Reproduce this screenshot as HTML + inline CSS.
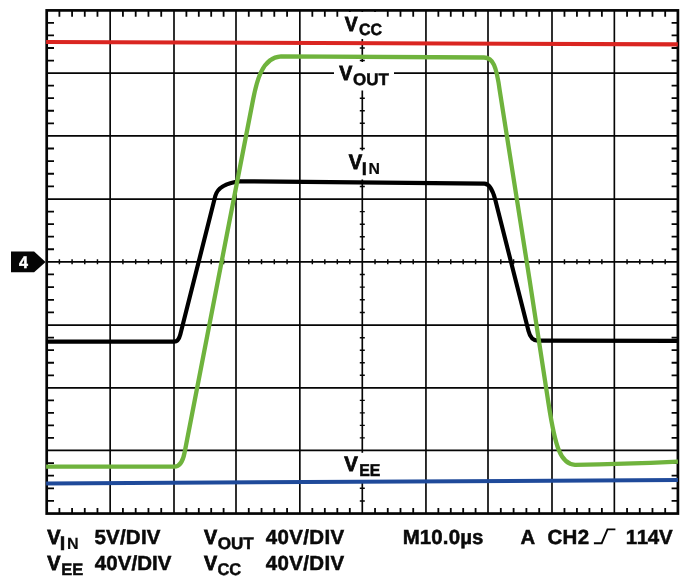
<!DOCTYPE html>
<html><head><meta charset="utf-8"><title>Scope</title>
<style>
html,body{margin:0;padding:0;background:#fff;}
svg{display:block;}
text{font-family:"Liberation Sans",Arial,Helvetica,sans-serif;font-weight:bold;fill:#0a0a0a;stroke:#0a0a0a;font-kerning:none;text-rendering:geometricPrecision;}
</style></head><body>
<svg width="686" height="586" viewBox="0 0 686 586">
<rect x="0" y="0" width="686" height="586" fill="#fff"/>

<path d="M110.15,10.4V513.55M174.00,10.4V513.55M236.00,10.4V513.55M299.85,10.4V513.55M362.30,10.4V513.55M425.95,10.4V513.55M488.00,10.4V513.55M552.00,10.4V513.55M614.35,10.4V513.55M46.7,73.06H677.9M46.7,135.84H677.9M46.7,199.06H677.9M46.7,261.80H677.9M46.7,325.14H677.9M46.7,387.84H677.9M46.7,450.40H677.9" stroke="#050505" stroke-width="1.65" fill="none"/>
<path d="M59.39,10.4v6.3M59.39,513.55v-5.6M72.08,10.4v6.3M72.08,513.55v-5.6M84.77,10.4v6.3M84.77,513.55v-5.6M97.46,10.4v6.3M97.46,513.55v-5.6M122.92,10.4v6.3M122.92,513.55v-5.6M135.69,10.4v6.3M135.69,513.55v-5.6M148.46,10.4v6.3M148.46,513.55v-5.6M161.23,10.4v6.3M161.23,513.55v-5.6M186.40,10.4v6.3M186.40,513.55v-5.6M198.80,10.4v6.3M198.80,513.55v-5.6M211.20,10.4v6.3M211.20,513.55v-5.6M223.60,10.4v6.3M223.60,513.55v-5.6M248.77,10.4v6.3M248.77,513.55v-5.6M261.54,10.4v6.3M261.54,513.55v-5.6M274.31,10.4v6.3M274.31,513.55v-5.6M287.08,10.4v6.3M287.08,513.55v-5.6M312.34,10.4v6.3M312.34,513.55v-5.6M324.83,10.4v6.3M324.83,513.55v-5.6M337.32,10.4v6.3M337.32,513.55v-5.6M349.81,10.4v6.3M349.81,513.55v-5.6M375.03,10.4v6.3M375.03,513.55v-5.6M387.76,10.4v6.3M387.76,513.55v-5.6M400.49,10.4v6.3M400.49,513.55v-5.6M413.22,10.4v6.3M413.22,513.55v-5.6M438.36,10.4v6.3M438.36,513.55v-5.6M450.77,10.4v6.3M450.77,513.55v-5.6M463.18,10.4v6.3M463.18,513.55v-5.6M475.59,10.4v6.3M475.59,513.55v-5.6M500.80,10.4v6.3M500.80,513.55v-5.6M513.60,10.4v6.3M513.60,513.55v-5.6M526.40,10.4v6.3M526.40,513.55v-5.6M539.20,10.4v6.3M539.20,513.55v-5.6M564.47,10.4v6.3M564.47,513.55v-5.6M576.94,10.4v6.3M576.94,513.55v-5.6M589.41,10.4v6.3M589.41,513.55v-5.6M601.88,10.4v6.3M601.88,513.55v-5.6M627.06,10.4v6.3M627.06,513.55v-5.6M639.77,10.4v6.3M639.77,513.55v-5.6M652.48,10.4v6.3M652.48,513.55v-5.6M665.19,10.4v6.3M665.19,513.55v-5.6M46.7,22.93h7.3M677.9,22.93h-6.3M46.7,35.46h7.3M677.9,35.46h-6.3M46.7,48.00h7.3M677.9,48.00h-6.3M46.7,60.53h7.3M677.9,60.53h-6.3M46.7,85.62h7.3M677.9,85.62h-6.3M46.7,98.17h7.3M677.9,98.17h-6.3M46.7,110.73h7.3M677.9,110.73h-6.3M46.7,123.28h7.3M677.9,123.28h-6.3M46.7,148.48h7.3M677.9,148.48h-6.3M46.7,161.13h7.3M677.9,161.13h-6.3M46.7,173.77h7.3M677.9,173.77h-6.3M46.7,186.42h7.3M677.9,186.42h-6.3M46.7,211.61h7.3M677.9,211.61h-6.3M46.7,224.16h7.3M677.9,224.16h-6.3M46.7,236.70h7.3M677.9,236.70h-6.3M46.7,249.25h7.3M677.9,249.25h-6.3M46.7,274.47h7.3M677.9,274.47h-6.3M46.7,287.14h7.3M677.9,287.14h-6.3M46.7,299.80h7.3M677.9,299.80h-6.3M46.7,312.47h7.3M677.9,312.47h-6.3M46.7,337.68h7.3M677.9,337.68h-6.3M46.7,350.22h7.3M677.9,350.22h-6.3M46.7,362.76h7.3M677.9,362.76h-6.3M46.7,375.30h7.3M677.9,375.30h-6.3M46.7,400.35h7.3M677.9,400.35h-6.3M46.7,412.86h7.3M677.9,412.86h-6.3M46.7,425.38h7.3M677.9,425.38h-6.3M46.7,437.89h7.3M677.9,437.89h-6.3M46.7,463.03h7.3M677.9,463.03h-6.3M46.7,475.66h7.3M677.9,475.66h-6.3M46.7,488.29h7.3M677.9,488.29h-6.3M46.7,500.92h7.3M677.9,500.92h-6.3" stroke="#050505" stroke-width="1.8" fill="none"/>
<path d="M59.39,259.20v5.1M72.08,259.20v5.1M84.77,259.20v5.1M97.46,259.20v5.1M122.92,259.20v5.1M135.69,259.20v5.1M148.46,259.20v5.1M161.23,259.20v5.1M186.40,259.20v5.1M198.80,259.20v5.1M211.20,259.20v5.1M223.60,259.20v5.1M248.77,259.20v5.1M261.54,259.20v5.1M274.31,259.20v5.1M287.08,259.20v5.1M312.34,259.20v5.1M324.83,259.20v5.1M337.32,259.20v5.1M349.81,259.20v5.1M375.03,259.20v5.1M387.76,259.20v5.1M400.49,259.20v5.1M413.22,259.20v5.1M438.36,259.20v5.1M450.77,259.20v5.1M463.18,259.20v5.1M475.59,259.20v5.1M500.80,259.20v5.1M513.60,259.20v5.1M526.40,259.20v5.1M539.20,259.20v5.1M564.47,259.20v5.1M576.94,259.20v5.1M589.41,259.20v5.1M601.88,259.20v5.1M627.06,259.20v5.1M639.77,259.20v5.1M652.48,259.20v5.1M665.19,259.20v5.1M359.80,22.93h5M359.80,35.46h5M359.80,48.00h5M359.80,60.53h5M359.80,85.62h5M359.80,98.17h5M359.80,110.73h5M359.80,123.28h5M359.80,148.48h5M359.80,161.13h5M359.80,173.77h5M359.80,186.42h5M359.80,211.61h5M359.80,224.16h5M359.80,236.70h5M359.80,249.25h5M359.80,274.47h5M359.80,287.14h5M359.80,299.80h5M359.80,312.47h5M359.80,337.68h5M359.80,350.22h5M359.80,362.76h5M359.80,375.30h5M359.80,400.35h5M359.80,412.86h5M359.80,425.38h5M359.80,437.89h5M359.80,463.03h5M359.80,475.66h5M359.80,488.29h5M359.80,500.92h5" stroke="#050505" stroke-width="1.45" fill="none"/>
<g fill="#fff">
<rect x="341" y="12" width="44" height="27"/>
<rect x="334" y="62" width="60" height="28.5"/>
<rect x="345" y="150.5" width="38" height="29"/>
<rect x="341" y="452.8" width="42" height="28"/>
</g>
<rect x="46.7" y="10.4" width="631.20" height="503.15" fill="none" stroke="#050505" stroke-width="2.7"/>
<g fill="none" stroke-linejoin="round" stroke-linecap="butt">
<path d="M46.1,483.5L677.9,480.0" stroke="#1f4a9a" stroke-width="4.05"/>
<path d="M46.1,42.0L677.9,44.35" stroke="#da2521" stroke-width="4.1"/>
<path d="M46.1,341.6L174.1,341.6Q178.5,341.6 180.3,334.4L215.3,196.1C216.7,190.3 221.3,183.3 240.5,181.2L484.4,183.6Q491.1,183.7 495.2,199.6L528.5,331Q530.9,340.6 537.7,340.6L677.9,340.9" stroke="#000" stroke-width="4.15"/>
<path d="M46.1,466.6L174.5,466.6Q181.9,466.5 184.6,452.5L253.0,100C256.5,82 261.8,57.5 281,56.4L484,57.5C493.0,57.6 496.4,66.0 499.8,91.0L529.6,280L548.5,403.3C555.2,447 560.5,464 575,464.8Q622,464.3 677.9,461.7" stroke="#6fb33d" stroke-width="4.3"/>
</g>
<path d="M11,251.5H34.1L45.6,262L34.1,272.2H11Z" fill="#050505"/>
<text transform="translate(18.91,268.30) scale(0.9522,1)" font-size="16.86" stroke-width="0.5" style="fill:#fff;stroke:#fff">4</text>
<text transform="translate(344.87,30.60) scale(0.9437,1)" font-size="20.44" stroke-width="0.8">V</text>
<text transform="translate(359.09,34.90) scale(0.9735,1)" font-size="16.42" stroke-width="0.5">CC</text>
<text transform="translate(339.17,80.00) scale(0.9587,1)" font-size="20.44" stroke-width="0.8">V</text>
<text transform="translate(352.95,84.90) scale(1.0081,1)" font-size="16.86" stroke-width="0.5">OUT</text>
<text transform="translate(348.66,168.90) scale(0.9748,1)" font-size="20.73" stroke-width="0.8">V</text>
<text stroke-width="0.5"><tspan x="361.86" y="174.80" font-size="18.31">I</tspan><tspan x="368.48" y="173.80" font-size="15.84" stroke-width="0.15">N</tspan></text>
<text transform="translate(344.26,470.80) scale(0.9822,1)" font-size="20.73" stroke-width="0.8">V</text>
<text transform="translate(359.19,476.00) scale(0.9258,1)" font-size="17.15" stroke-width="0.5">EE</text>
<text transform="translate(47.26,544.00) scale(0.9737,1)" font-size="20.44" stroke-width="0.8">V</text>
<text stroke-width="0.5"><tspan x="59.70" y="549.80" font-size="19.77">I</tspan><tspan x="66.88" y="548.60" font-size="16.13" stroke-width="0.15">N</tspan></text>
<text transform="translate(94.42,544.00) scale(1.0000,1)" font-size="20.49" stroke-width="0.5" letter-spacing="0.229">5V/DIV</text>
<text transform="translate(47.26,570.30) scale(0.9737,1)" font-size="20.44" stroke-width="0.8">V</text>
<text transform="translate(61.35,575.10) scale(0.9927,1)" font-size="16.57" stroke-width="0.5">EE</text>
<text transform="translate(94.74,570.30) scale(1.0000,1)" font-size="20.49" stroke-width="0.5" letter-spacing="0.071">40V/DIV</text>
<text transform="translate(203.97,544.00) scale(0.9662,1)" font-size="20.44" stroke-width="0.8">V</text>
<text transform="translate(217.65,549.20) scale(1.0139,1)" font-size="16.86" stroke-width="0.5">OUT</text>
<text transform="translate(265.84,544.00) scale(1.0000,1)" font-size="20.49" stroke-width="0.5" letter-spacing="0.321">40V/DIV</text>
<text transform="translate(203.97,570.30) scale(0.9662,1)" font-size="20.44" stroke-width="0.8">V</text>
<text transform="translate(217.48,574.90) scale(0.9658,1)" font-size="17.01" stroke-width="0.5">CC</text>
<text transform="translate(265.84,570.30) scale(1.0000,1)" font-size="20.49" stroke-width="0.5" letter-spacing="0.321">40V/DIV</text>
<text transform="translate(402.68,544.20) scale(1.0000,1)" font-size="20.49" stroke-width="0.5" letter-spacing="0.107">M10.0µs</text>
<text transform="translate(520.55,544.20) scale(0.9891,1)" font-size="20.49" stroke-width="0.5">A</text>
<text transform="translate(547.51,544.20) scale(1.0000,1)" font-size="20.49" stroke-width="0.5" letter-spacing="0.281">CH2</text>
<path d="M593.9,543.2H601.7L607.5,529.4H615.4" fill="none" stroke="#050505" stroke-width="1.9"/>
<text transform="translate(625.76,544.20) scale(1.0000,1)" font-size="20.49" stroke-width="0.5" letter-spacing="-0.344">114V</text>
</svg></body></html>
